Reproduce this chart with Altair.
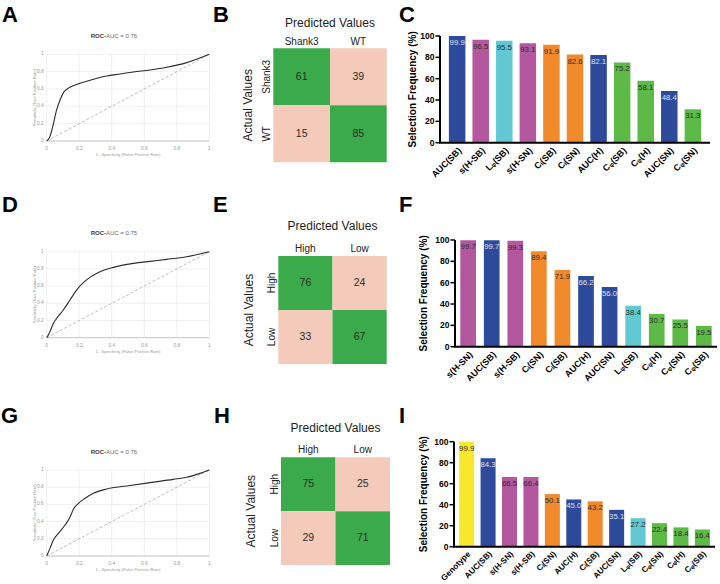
import altair as alt
import pandas as pd

W, H = 720, 584
FONT = "Liberation Sans"

# ---------------- data ----------------
# ROC curves (1 - specificity, sensitivity)
roc_a_fpr = [0, 0.02, 0.037, 0.061, 0.082, 0.107, 0.143, 0.205, 0.287, 0.369, 0.451, 0.533, 0.635, 0.738, 0.861, 1.0]
roc_a_tpr = [0, 0.05, 0.165, 0.358, 0.473, 0.569, 0.619, 0.665, 0.712, 0.75, 0.773, 0.796, 0.819, 0.85, 0.904, 1.0]
roc_d_fpr = [0, 0.02, 0.041, 0.061, 0.102, 0.143, 0.184, 0.225, 0.266, 0.328, 0.41, 0.533, 0.635, 0.738, 0.861, 1.0]
roc_d_tpr = [0, 0.07, 0.167, 0.225, 0.322, 0.438, 0.554, 0.64, 0.702, 0.767, 0.818, 0.864, 0.888, 0.911, 0.942, 1.0]
roc_g_fpr = [0, 0.02, 0.041, 0.072, 0.113, 0.143, 0.164, 0.195, 0.236, 0.287, 0.369, 0.492, 0.635, 0.779, 0.861, 0.943, 1.0]
roc_g_tpr = [0, 0.089, 0.186, 0.264, 0.36, 0.45, 0.543, 0.612, 0.671, 0.729, 0.779, 0.814, 0.853, 0.891, 0.915, 0.961, 1.0]
roc_auc = ["0.76", "0.75", "0.76"]
roc_ticks = [0, 0.2, 0.4, 0.6, 0.8, 1.0]

# confusion matrices (rows = actual, columns = predicted)
cm_b_classes = ["Shank3", "WT"]
cm_b_values = [[61, 39], [15, 85]]
cm_e_classes = ["High", "Low"]
cm_e_values = [[76, 24], [33, 67]]
cm_h_classes = ["High", "Low"]
cm_h_values = [[75, 25], [29, 71]]

# selection frequency bars
c_labels = ["AUC(SB)", "s(H-SB)", "Lᵩ(SB)", "s(H-SN)", "Cᵢ(SB)", "Cᵢ(SN)", "AUC(H)", "Cᵩ(SB)", "Cᵩ(H)", "AUC(SN)", "Cᵩ(SN)"]
c_values = [99.9, 96.5, 95.5, 93.1, 91.9, 82.6, 82.1, 75.2, 58.1, 48.4, 31.3]
c_groups = ["AUC", "s", "L", "s", "Ci", "Ci", "AUC", "Cphi", "Cphi", "AUC", "Cphi"]

f_labels = ["s(H-SN)", "AUC(SB)", "s(H-SB)", "Cᵢ(SN)", "Cᵢ(SB)", "AUC(H)", "AUC(SN)", "Lᵩ(SB)", "Cᵩ(H)", "Cᵩ(SN)", "Cᵩ(SB)"]
f_values = [99.7, 99.7, 99.3, 89.4, 71.9, 66.2, 56.0, 38.4, 30.7, 25.5, 19.5]
f_groups = ["s", "AUC", "s", "Ci", "Ci", "AUC", "AUC", "L", "Cphi", "Cphi", "Cphi"]

i_labels = ["Genotype", "AUC(SB)", "s(H-SN)", "s(H-SB)", "Cᵢ(SN)", "AUC(H)", "Cᵢ(SB)", "AUC(SN)", "Lᵩ(SB)", "Cᵩ(SN)", "Cᵩ(H)", "Cᵩ(SB)"]
i_values = [99.9, 84.3, 66.5, 66.4, 50.1, 45.0, 43.2, 35.1, 27.2, 22.4, 18.4, 16.4]
i_groups = ["Genotype", "AUC", "s", "s", "Ci", "AUC", "Ci", "AUC", "L", "Cphi", "Cphi", "Cphi"]

freq_ticks = [0, 20, 40, 60, 80, 100]

GROUPS = ["AUC", "s", "L", "Ci", "Cphi", "Genotype"]
GROUP_COLORS = ["#2E4B9B", "#B3589F", "#62C9D3", "#F08A2A", "#5DBA47", "#F6E82A"]
CM_GREEN = "#3BAA4B"
CM_PINK = "#F4CBBB"
GRAY_TXT = "#999999"


def value_text(text, x, y, **kw):
    return alt.Chart().mark_text(text=text, **kw).encode(x=alt.value(x), y=alt.value(y))


# ---------------- builders ----------------
def roc_panel(fpr, tpr, auc, x0, x1, ytop, ybot, title_y):
    xs = alt.Scale(domain=[0, 1], range=[x0, x1], nice=False, zero=False)
    ys = alt.Scale(domain=[0, 1], range=[ybot, ytop], nice=False, zero=False)
    grid = pd.DataFrame({"g": roc_ticks, "lo": [0.0] * len(roc_ticks), "hi": [1.0] * len(roc_ticks)})
    edge = pd.DataFrame({"lo": [0.0], "hi": [1.0]})
    vgrid = alt.Chart(grid).mark_rule(color="#e9e9e9", strokeWidth=0.7).encode(
        x=alt.X("g:Q", scale=xs, axis=None),
        y=alt.Y("lo:Q", scale=ys, axis=None), y2="hi:Q")
    hgrid = alt.Chart(grid).mark_rule(color="#e9e9e9", strokeWidth=0.7).encode(
        y=alt.Y("g:Q", scale=ys, axis=None),
        x=alt.X("lo:Q", scale=xs, axis=None), x2="hi:Q")
    xdom = alt.Chart(edge).mark_rule(color="#bdbdbd", strokeWidth=0.8).encode(
        y=alt.Y("lo:Q", scale=ys, axis=None),
        x=alt.X("lo:Q", scale=xs, axis=None), x2="hi:Q")
    diag = alt.Chart(pd.DataFrame({"d": [0.0, 1.0]})).mark_line(
        color="#a0a0a0", strokeDash=[3, 2], strokeWidth=0.7).encode(
        x=alt.X("d:Q", scale=xs, axis=None), y=alt.Y("d:Q", scale=ys, axis=None))
    curve = alt.Chart(pd.DataFrame({"fpr": fpr, "tpr": tpr})).mark_line(
        color="#2b2b2b", strokeWidth=1.1, interpolate="monotone").encode(
        x=alt.X("fpr:Q", scale=xs, axis=None),
        y=alt.Y("tpr:Q", scale=ys, axis=None))
    xlab = alt.Chart(grid).mark_text(fontSize=4.8, color=GRAY_TXT, baseline="middle", dy=8).encode(
        x=alt.X("g:Q", scale=xs, axis=None), y=alt.Y("lo:Q", scale=ys, axis=None),
        text=alt.Text("g:Q", format="~g"))
    ylab = alt.Chart(grid).mark_text(fontSize=4.8, color=GRAY_TXT, align="right",
                                     baseline="middle", dx=-3).encode(
        x=alt.X("lo:Q", scale=xs, axis=None), y=alt.Y("g:Q", scale=ys, axis=None),
        text=alt.Text("g:Q", format="~g"))
    xtitle = value_text("1 - Specificity (False Positive Rate)", (x0 + x1) / 2, ybot + 14.3,
                        fontSize=4.2, color=GRAY_TXT, baseline="middle")
    ytitle = value_text("Sensitivity (True Positive Rate)", x0 - 11.7, (ytop + ybot) / 2,
                        fontSize=4.2, color=GRAY_TXT, baseline="middle", angle=270)
    t1 = value_text("ROC-", 106, title_y, align="right", baseline="middle", fontSize=6,
                    fontWeight="bold", color="#3a3a3a")
    t2 = value_text(f"AUC = {auc}", 106, title_y, align="left", baseline="middle", fontSize=6,
                    color="#6a6a6a")
    return alt.layer(vgrid, hgrid, xdom, diag, curve, xlab, ylab, xtitle, ytitle, t1, t2)


def cm_panel(classes, values, x0, x1, y0, y1, title_y, title_x, col_y, row_x):
    actual, pred, n = [], [], []
    for i, a in enumerate(classes):
        for j, p in enumerate(classes):
            actual.append(a)
            pred.append(p)
            n.append(values[i][j])
    df = pd.DataFrame({"actual": actual, "pred": pred, "n": n})
    cls = pd.DataFrame({"c": classes})
    xs = alt.Scale(domain=classes, range=[x0, x1], paddingInner=0, paddingOuter=0)
    ys = alt.Scale(domain=classes, range=[y0, y1], paddingInner=0, paddingOuter=0)
    base = alt.Chart(df).transform_calculate(
        hit="datum.actual === datum.pred ? 'hit' : 'miss'")
    rect = base.mark_rect().encode(
        x=alt.X("pred:N", scale=xs, axis=None),
        y=alt.Y("actual:N", scale=ys, axis=None),
        color=alt.Color("hit:N", scale=alt.Scale(domain=["hit", "miss"], range=[CM_GREEN, CM_PINK]),
                        legend=None))
    txt = base.mark_text(fontSize=10.5, color="#2a2a2a").encode(
        x=alt.X("pred:N", scale=xs, axis=None),
        y=alt.Y("actual:N", scale=ys, axis=None),
        text="n:Q")
    collab = alt.Chart(cls).mark_text(fontSize=10, color="#222222", baseline="middle").encode(
        x=alt.X("c:N", scale=xs, axis=None), y=alt.value(col_y), text="c:N")
    rowlab = alt.Chart(cls).mark_text(fontSize=10, color="#222222", baseline="middle",
                                      angle=270).encode(
        x=alt.value(row_x), y=alt.Y("c:N", scale=ys, axis=None), text="c:N")
    ttop = value_text("Predicted Values", (x0 + x1) / 2, title_y, fontSize=12, color="#222222",
                      baseline="middle")
    tleft = value_text("Actual Values", title_x, (y0 + y1) / 2, fontSize=12, color="#222222",
                       baseline="middle", angle=270)
    return alt.layer(rect, txt, collab, rowlab, ttop, tleft)


def bar_panel(labels, values, groups, x0, x1, ybot, ytop, pi, po, title_x, lab_size):
    df = pd.DataFrame({"lab": labels, "v": values, "grp": groups})
    ticks = pd.DataFrame({"t": freq_ticks})
    edge = pd.DataFrame({"lo": [0], "hi": [100]})
    xs = alt.Scale(domain=labels, range=[x0, x1], paddingInner=pi, paddingOuter=po)
    ys = alt.Scale(domain=[0, 100], range=[ybot, ytop], nice=False)
    bars = alt.Chart(df).mark_bar().encode(
        x=alt.X("lab:N", scale=xs, axis=None),
        y=alt.Y("v:Q", scale=ys, axis=None),
        color=alt.Color("grp:N", scale=alt.Scale(domain=GROUPS, range=GROUP_COLORS), legend=None))
    txt = alt.Chart(df).mark_text(baseline="top", dy=3, fontSize=7.8).encode(
        x=alt.X("lab:N", scale=xs, axis=None),
        y=alt.Y("v:Q", scale=ys, axis=None),
        text=alt.Text("v:Q", format=".1f"),
        color=alt.condition(alt.datum.grp == "AUC", alt.value("#dde1f4"), alt.value("#2a2a2a")))
    ydom = alt.Chart(edge).mark_rule(color="black", strokeWidth=2).encode(
        x=alt.value(x0), y=alt.Y("lo:Q", scale=ys, axis=None), y2="hi:Q")
    xdom = alt.Chart(edge).mark_rule(color="black", strokeWidth=2).encode(
        x=alt.value(x0 - 1), x2=alt.value(x1), y=alt.Y("lo:Q", scale=ys, axis=None))
    tk = alt.Chart(ticks).mark_rule(color="black", strokeWidth=1.5).encode(
        x=alt.value(x0 - 4.5), x2=alt.value(x0), y=alt.Y("t:Q", scale=ys, axis=None))
    tklab = alt.Chart(ticks).mark_text(fontSize=8.5, fontWeight="bold", color="black",
                                       align="right", baseline="middle").encode(
        x=alt.value(x0 - 5.5), y=alt.Y("t:Q", scale=ys, axis=None), text="t:Q")
    xlab = alt.Chart(df).transform_calculate(z="0").mark_text(
        fontSize=lab_size, fontWeight="bold", color="black", align="right", baseline="top",
        angle=315, dx=-2.5, dy=2.5).encode(
        x=alt.X("lab:N", scale=xs, axis=None), y=alt.Y("z:Q", scale=ys, axis=None), text="lab:N")
    ytitle = value_text("Selection Frequency (%)", title_x, (ytop + ybot) / 2, fontSize=10,
                        fontWeight="bold", color="black", baseline="middle", angle=270)
    return alt.layer(bars, txt, ydom, xdom, tk, tklab, xlab, ytitle)


def letter(t, x, y):
    return value_text(t, x, y, align="left", baseline="alphabetic", fontSize=22,
                      fontWeight="bold", color="black")


layers = []
# row 1
layers.append(roc_panel(roc_a_fpr, roc_a_tpr, roc_auc[0], 46.7, 209.3, 54.3, 141, 36))
layers.append(cm_panel(cm_b_classes, cm_b_values, 273.3, 386.7, 48.3, 162.3, 22.7, 248, 42.3, 267))
layers.append(bar_panel(c_labels, c_values, c_groups, 440, 710, 142.7, 36, 0.3, 0.377, 413, 9))
# row 2
layers.append(roc_panel(roc_d_fpr, roc_d_tpr, roc_auc[1], 46.7, 209.3, 251.7, 337.7, 233.3))
layers.append(cm_panel(cm_e_classes, cm_e_values, 278.3, 386.7, 256, 364, 226, 249, 249.3, 271.7))
layers.append(bar_panel(f_labels, f_values, f_groups, 455, 717, 346.7, 240, 0.334, 0.225, 424, 9))
# row 3
layers.append(roc_panel(roc_g_fpr, roc_g_tpr, roc_auc[2], 46.7, 209.3, 470, 556, 451.7))
layers.append(cm_panel(cm_h_classes, cm_h_values, 281, 390, 457.3, 565, 427.7, 250.7, 450, 275))
layers.append(bar_panel(i_labels, i_values, i_groups, 454, 715, 546.7, 441.7, 0.3, 0.24, 423.7, 8.2))
# panel letters
for t, x, y in [("A", 2, 22), ("B", 213, 22), ("C", 399, 22),
                ("D", 2, 212), ("E", 213, 212), ("F", 399, 212),
                ("G", 1, 423), ("H", 214, 423), ("I", 399, 423)]:
    layers.append(letter(t, x, y))

chart = alt.layer(*layers).resolve_scale(
    x="independent", y="independent", color="independent"
).properties(
    width=W, height=H, padding=0, autosize=alt.AutoSizeParams(type="none")
).configure(font=FONT).configure_view(stroke=None)

chart.save("out.html", embed_options={"renderer": "svg", "actions": False})
